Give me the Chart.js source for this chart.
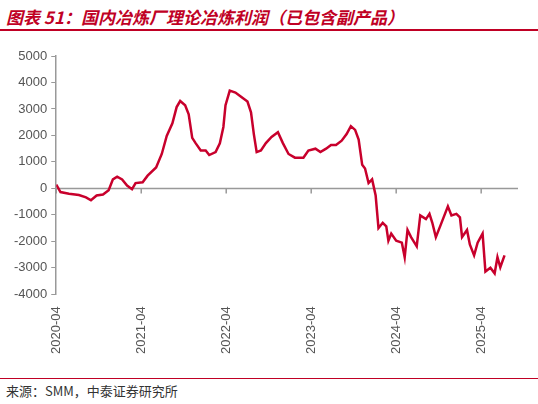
<!DOCTYPE html>
<html><head><meta charset="utf-8">
<script src="https://cdn.jsdelivr.net/npm/chart.js@4"></script>
<style>
body{margin:0;width:538px;height:404px;background:#fff;position:relative;overflow:hidden;font-family:"Liberation Sans",Arial,sans-serif}
#t{position:absolute;left:6px;top:4px;font-family:"Noto Sans CJK SC";font-size:17px;font-weight:bold;font-style:italic;color:#c00024;white-space:nowrap}
#l1{position:absolute;left:0;top:29px;width:538px;height:2px;background:#c00024}
#l2{position:absolute;left:0;top:378px;width:538px;height:1px;background:#c00024}
#s{position:absolute;left:6px;top:381px;font-family:"Noto Sans CJK SC";font-size:13px;color:#333}
#c{position:absolute;left:0;top:44px;width:538px;height:314px}
</style></head><body>
<div id="t">图表 51：国内冶炼厂理论冶炼利润（已包含副产品）</div>
<div id="l1"></div>
<div id="c"><canvas id="cv"></canvas></div>
<div id="l2"></div>
<div id="s">来源：SMM，中泰证券研究所</div>
<script>
const months=[0,0.6,1.8,3.2,4.2,4.9,5.7,6.6,7.4,8,8.6,9.3,10,10.7,11.2,12.2,12.9,14.1,14.9,15.6,16.4,17,17.5,18.2,18.7,19.2,19.7,20.4,21.1,21.6,22.5,23.1,23.6,23.9,24.5,25.3,26,27,27.5,27.9,28.3,28.9,29.6,30.4,31.3,32,32.8,33.7,34.9,35.6,36.6,37.3,38.1,38.8,39.5,40.3,41,41.6,42.2,42.7,43.2,43.6,44.1,44.6,45.1,45.5,46.1,46.6,46.9,47.3,48,48.8,49.2,49.6,50.1,50.9,51.4,52.2,52.7,53.1,53.6,54.3,55.3,55.8,56.5,57,57.3,58,58.4,59,59.5,60.2,60.6,61.3,61.9,62.3,62.7,63.3];
const profit=[140,-140,-200,-250,-340,-450,-270,-230,-70,340,440,340,110,-30,200,230,480,790,1300,1980,2460,3070,3300,3140,2800,1910,1700,1430,1430,1260,1370,1700,2320,3140,3690,3620,3480,3280,2870,2050,1370,1430,1710,1940,2120,1710,1300,1160,1160,1430,1500,1370,1500,1640,1640,1800,2050,2350,2210,1840,890,750,200,340,-270,-1500,-1300,-1430,-1980,-1710,-1980,-2050,-2600,-1570,-1840,-2190,-1020,-1160,-960,-1300,-1840,-1370,-680,-1020,-960,-1090,-1840,-1570,-2120,-2530,-2050,-1710,-3140,-3000,-3210,-2600,-2980,-2530];
const tickLabels=["2020-04","2021-04","2022-04","2023-04","2024-04","2025-04"];
const xTicks=[0,12,24,36,48,60];
const yTicks=[5000,4000,3000,2000,1000,0,-1000,-2000,-3000,-4000];
const zeroAxis={id:'zeroAxis',beforeDatasetsDraw(ch){
  const {ctx,scales:{x,y},chartArea:a}=ch;const y0=y.getPixelForValue(0);
  ctx.save();ctx.strokeStyle='#999';ctx.lineWidth=1.5;ctx.beginPath();
  ctx.moveTo(a.left,y0);ctx.lineTo(a.right,y0);
  xTicks.forEach(v=>{const px=x.getPixelForValue(v);ctx.moveTo(px,y0);ctx.lineTo(px,y0+5);});
  ctx.stroke();ctx.restore();}};
new Chart(document.getElementById('cv'),{
 type:'line',
 data:{datasets:[{data:months.map((m,i)=>({x:m,y:profit[i]})),borderColor:'#c8002c',borderWidth:2.5,pointRadius:0,tension:0}]},
 plugins:[zeroAxis],
 options:{responsive:true,maintainAspectRatio:false,animation:false,
  layout:{padding:{left:10,right:20,top:12,bottom:0}},
  plugins:{legend:{display:false},tooltip:{enabled:false}},
  scales:{
   x:{type:'linear',min:0,max:65.2,
     afterBuildTicks:a=>{a.ticks=xTicks.map(v=>({value:v}));},
     ticks:{callback:v=>tickLabels[v/12],maxRotation:90,minRotation:90,color:'#555',font:{size:13},padding:4},
     grid:{display:false},border:{display:false}},
   y:{min:-4000,max:5000,
     afterBuildTicks:a=>{a.ticks=yTicks.map(v=>({value:v}));},
     ticks:{callback:v=>String(v),color:'#555',font:{size:13},padding:4},
     grid:{drawOnChartArea:false,tickLength:5,color:'#999'},border:{color:'#999',width:1.5}}
  }}
});
</script></body></html>
